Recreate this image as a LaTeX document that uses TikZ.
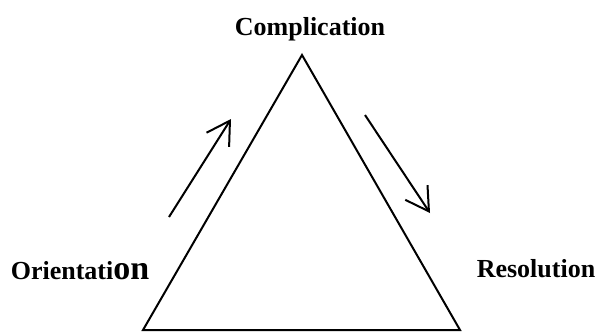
\documentclass[tikz,border=0pt]{standalone}
\usepackage{fontspec}
\setmainfont{Liberation Serif}
\usepackage{tikz}
\usetikzlibrary{arrows.meta,positioning}

\begin{document}
\begin{tikzpicture}[
                x=0.75pt, y=-0.75pt,
                label/.style={inner sep=0pt, anchor=base, font=\fontsize{19.5}{22}\selectfont\bfseries},
                side/.style={line width=1.5pt, line join=miter},
                flow/.style={-{Straight Barb[length=17pt,width=20pt]}, line width=1.5pt}
            ]
            \useasboundingbox (0,0) rectangle (598,332);
            % triangle
            \coordinate (top) at (302,55);
            \coordinate (left) at (143,330);
            \coordinate (right) at (460,330);
            \draw[side] (top) -- (left) -- (right) -- cycle;
            % labels
            \node[label] (compl) at (310,35) {Complication};
            \node[label] (orient) at (80,279) {Orientati{\fontsize{25.5}{28}\selectfont on}};
            \node[label] (resol) at (536,277) {Resolution};
            % arrows
            \coordinate (up0) at (169,217);
            \coordinate (up1) at (231,119);
            \coordinate (dn0) at (365,115);
            \coordinate (dn1) at (430,213);
            \draw[flow] (up0) -- (up1);
            \draw[flow] (dn0) -- (dn1);
        \end{tikzpicture}
\end{document}
